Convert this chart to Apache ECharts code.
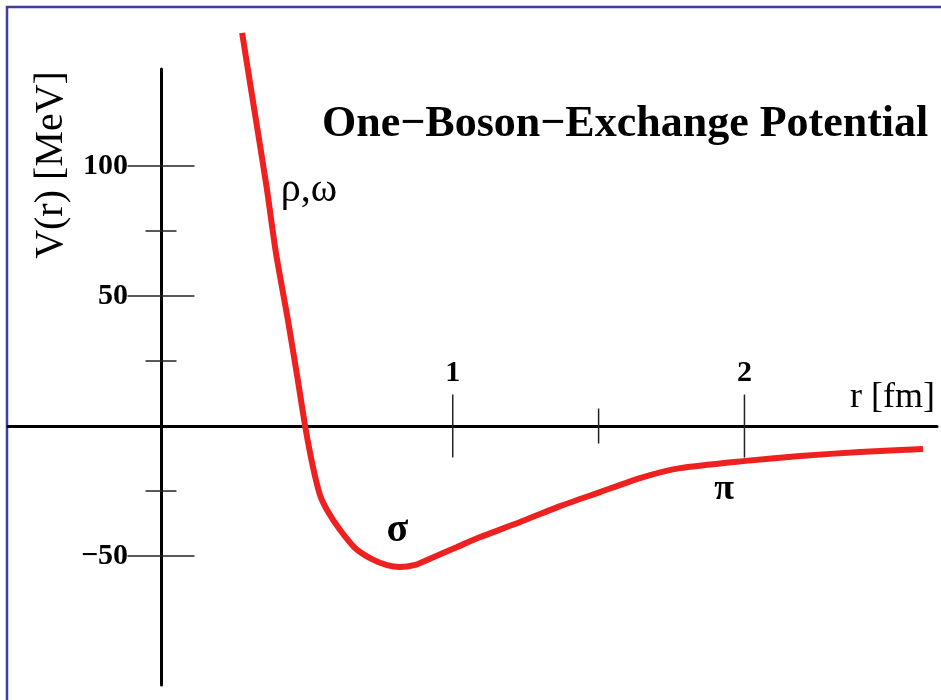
<!DOCTYPE html>
<html>
<head>
<meta charset="utf-8">
<script src="https://cdn.jsdelivr.net/npm/echarts@6/dist/echarts.min.js"></script>
<style>
  html, body { margin: 0; background: #fff; }
  #chart { width: 941px; height: 700px; }
</style>
</head>
<body>
<div id="chart"></div>
<script>
// r in fm, V in MeV
const rValues = [0.278, 0.32, 0.362, 0.394, 0.435, 0.469, 0.494, 0.521, 0.545, 0.573, 0.614, 0.665, 0.723, 0.775, 0.819, 0.871, 0.912, 0.967, 1.015, 1.094, 1.231, 1.368, 1.505, 1.642, 1.779, 1.995, 2.191, 2.396, 2.612]
const vValues = [151.2, 121.5, 91.9, 66.5, 40.8, 17.7, 0, -15.8, -26.5, -33.1, -40, -46.9, -51.2, -53.5, -54.2, -53.4, -51.5, -48.8, -46.5, -42.7, -36.9, -30.8, -25.4, -20, -16.2, -13.5, -11.5, -10, -8.8]

const yMajorTicks = [100, 50, -50]
const yMajorLabels = ['100', '50', '\u221250']
const yMinorTicks = [75, 25, -25]
const xMajorTicks = [1, 2]
const xMajorLabels = ['1', '2']
const xMinorTicks = [1.5]

// exchange labels placed on the curve's own scale
const annoText = ['\u03c1,\u03c9', '\u03c3', '\u03c0']
const annoR = [0.507, 0.81, 1.93]
const annoV = [90.5, -40.3, -24.6]

const SERIF = '"Liberation Serif", "DejaVu Serif", serif'

function tickSeries(values, dim, half, labels) {
  return {
    type: 'custom',
    coordinateSystem: 'cartesian2d',
    silent: true,
    clip: false,
    z: 1,
    data: values.map((v) => (dim === 'y' ? [0, v] : [v, 0])),
    renderItem: (params, api) => {
      const p = api.coord([api.value(0), api.value(1)])
      const shape = dim === 'y'
        ? { x1: p[0] - half, y1: p[1], x2: p[0] + half, y2: p[1] }
        : { x1: p[0], y1: p[1] - half, x2: p[0], y2: p[1] + half }
      const children = [{ type: 'line', shape, style: { stroke: '#222', lineWidth: 1.5 } }]
      if (labels) {
        const text = labels[params.dataIndex]
        const base = { text, fill: '#000', fontFamily: SERIF, fontWeight: 'bold', fontSize: 30 }
        children.push(dim === 'y'
          ? { type: 'text', style: { ...base, x: p[0] - 33, y: p[1], align: 'right', verticalAlign: 'middle' } }
          : { type: 'text', style: { ...base, x: p[0], y: p[1] - 53, align: 'center', verticalAlign: 'middle' } })
      }
      return { type: 'group', children }
    },
  }
}

const chart = echarts.init(document.getElementById('chart'))
chart.setOption({
  backgroundColor: '#fff',
  animation: false,
  title: {
    text: 'One\u2212Boson\u2212Exchange Potential',
    left: 322,
    top: 103,
    padding: 0,
    textStyle: { fontFamily: SERIF, fontWeight: 'bold', fontSize: 44, color: '#000' },
  },
  graphic: [
    {
      type: 'rect',
      silent: true,
      shape: { x: 7, y: 7, width: 1000, height: 1000 },
      style: { fill: 'none', stroke: '#3f3f9f', lineWidth: 2.5 },
    },
    {
      type: 'text',
      silent: true,
      x: 51,
      y: 165,
      rotation: Math.PI / 2,
      style: {
        text: 'V(r) [MeV]',
        fontFamily: SERIF,
        fontSize: 40,
        fill: '#000',
        align: 'center',
        verticalAlign: 'middle',
      },
    },
  ],
  grid: { left: 8, right: 4, top: 69, bottom: 15 },
  xAxis: {
    type: 'value',
    min: -0.5245,
    max: 2.66,
    name: 'r [fm]',
    nameLocation: 'end',
    nameGap: -2,
    nameTextStyle: {
      fontFamily: SERIF,
      fontSize: 36,
      color: '#000',
      align: 'right',
      verticalAlign: 'bottom',
      padding: [0, 0, 10, 0],
    },
    axisLine: { onZero: true, lineStyle: { color: '#000', width: 3 } },
    axisTick: { show: false },
    axisLabel: { show: false },
    splitLine: { show: false },
  },
  yAxis: {
    type: 'value',
    min: -99.6,
    max: 137.3,
    axisLine: { onZero: true, lineStyle: { color: '#000', width: 3 } },
    axisTick: { show: false },
    axisLabel: { show: false },
    splitLine: { show: false },
  },
  series: [
    tickSeries(yMajorTicks, 'y', 33.5, yMajorLabels),
    tickSeries(yMinorTicks, 'y', 15.5),
    tickSeries(xMajorTicks, 'x', 31.5, xMajorLabels),
    tickSeries(xMinorTicks, 'x', 17.5),
    {
      name: 'V(r)',
      type: 'line',
      data: rValues.map((r, i) => [r, vValues[i]]),
      smooth: 0.2,
      showSymbol: false,
      clip: false,
      z: 3,
      lineStyle: { color: '#ee2020', width: 6 },
    },
    {
      type: 'custom',
      coordinateSystem: 'cartesian2d',
      silent: true,
      clip: false,
      data: annoR.map((r, i) => [r, annoV[i]]),
      renderItem: (params, api) => {
        const p = api.coord([api.value(0), api.value(1)])
        const text = annoText[params.dataIndex]
        return {
          type: 'text',
          style: {
            text,
            x: p[0],
            y: p[1],
            align: 'center',
            verticalAlign: 'middle',
            fontFamily: SERIF,
            fontWeight: params.dataIndex === 0 ? 'normal' : 'bold',
            fontSize: params.dataIndex === 2 ? 36 : 40,
            fill: '#000',
          },
        }
      },
    },
  ],
})
window.addEventListener('resize', () => chart.resize())
</script>
</body>
</html>
